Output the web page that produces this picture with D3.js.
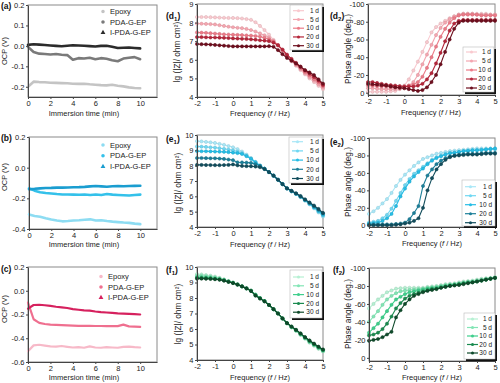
<!DOCTYPE html>
<html><head><meta charset="utf-8">
<script src="https://cdn.jsdelivr.net/npm/d3@7"></script>
<style>body{margin:0;background:#fff}svg{display:block;font-family:"Liberation Sans",Arial,sans-serif}</style>
</head><body><svg id="c" width="500" height="383"></svg>
<script>
// ---------- DATA ----------
const ocpTime = [0,0.5,1,1.5,2,2.5,3,3.5,4,4.5,5,5.5,6,6.5,7,7.5,8,8.5,9,9.5,10];
const ocpNames = ["Epoxy","PDA-G-EP","I-PDA-G-EP"];
const ocpXTicks = [0,2,4,6,8,10];
const ocpXTickLabels = ["0","2","4","6","8","10"];

const ocpA_Epoxy = [-0.200,-0.175,-0.177,-0.178,-0.180,-0.181,-0.182,-0.183,-0.185,-0.186,-0.185,-0.188,-0.190,-0.192,-0.193,-0.190,-0.195,-0.198,-0.203,-0.206,-0.207];
const ocpA_PDA = [-0.005,-0.030,-0.038,-0.040,-0.042,-0.040,-0.043,-0.045,-0.068,-0.060,-0.062,-0.058,-0.065,-0.060,-0.063,-0.070,-0.075,-0.062,-0.058,-0.055,-0.065];
const ocpA_IPDA = [0.005,0.008,0.006,0.004,0.002,0.000,-0.002,0.001,0.003,0.002,0.001,-0.001,-0.003,0.000,0.001,-0.004,-0.010,-0.009,-0.008,-0.010,-0.012];
const ocpA_YTicks = [0.2,0.1,0.0,-0.1,-0.2];
const ocpA_YTickLabels = ["0.2","0.1","0.0","-0.1","-0.2"];

const ocpB_Epoxy = [-0.305,-0.315,-0.320,-0.330,-0.338,-0.345,-0.350,-0.348,-0.345,-0.343,-0.340,-0.337,-0.345,-0.343,-0.348,-0.352,-0.355,-0.358,-0.360,-0.365,-0.368];
const ocpB_PDA = [-0.135,-0.150,-0.160,-0.165,-0.168,-0.172,-0.175,-0.175,-0.176,-0.177,-0.175,-0.178,-0.175,-0.178,-0.172,-0.176,-0.178,-0.180,-0.182,-0.178,-0.176];
const ocpB_IPDA = [-0.140,-0.138,-0.135,-0.133,-0.132,-0.130,-0.130,-0.129,-0.128,-0.127,-0.125,-0.122,-0.120,-0.122,-0.124,-0.121,-0.120,-0.121,-0.120,-0.119,-0.118];
const ocpB_YTicks = [0.2,0.0,-0.2,-0.4];
const ocpB_YTickLabels = ["0.2","0.0","-0.2","-0.4"];

const ocpC_Epoxy = [-0.510,-0.460,-0.455,-0.462,-0.468,-0.470,-0.465,-0.472,-0.478,-0.475,-0.480,-0.468,-0.478,-0.480,-0.475,-0.478,-0.480,-0.472,-0.470,-0.475,-0.478];
const ocpC_PDA = [-0.100,-0.240,-0.270,-0.280,-0.285,-0.288,-0.290,-0.292,-0.294,-0.295,-0.296,-0.296,-0.297,-0.297,-0.298,-0.298,-0.298,-0.285,-0.300,-0.302,-0.305];
const ocpC_IPDA = [-0.150,-0.120,-0.118,-0.122,-0.128,-0.135,-0.140,-0.145,-0.155,-0.160,-0.165,-0.168,-0.175,-0.180,-0.183,-0.186,-0.190,-0.192,-0.195,-0.197,-0.200];
const ocpC_YTicks = [0.2,0.0,-0.2,-0.4,-0.6];
const ocpC_YTickLabels = ["0.2","0.0","-0.2","-0.4","-0.6"];

const freq = [-2,-1.75,-1.5,-1.25,-1,-0.75,-0.5,-0.25,0,0.25,0.5,0.75,1,1.25,1.5,1.75,2,2.25,2.5,2.75,3,3.25,3.5,3.75,4,4.25,4.5,4.75,5];
const days = ["1 d","5 d","10 d","20 d","30 d"];
const freqTicks = [-2,-1,0,1,2,3,4,5];
const freqTickLabels = ["-2","-1","0","1","2","3","4","5"];
const zTicks9 = [4,5,6,7,8,9];
const zTicks10 = [4,5,6,7,8,9,10];
const phaseTicks = [-100,-80,-60,-40,-20,0];
const phaseTickLabels = ["-100","-80","-60","-40","-20","0"];

// d1 |Z|
const d1_1 = [8.30,8.30,8.30,8.29,8.28,8.27,8.26,8.25,8.25,8.24,8.22,8.19,8.15,8.02,7.82,7.60,7.35,7.07,6.78,6.48,6.18,5.92,5.68,5.45,5.22,5.00,4.80,4.60,4.42];
const d1_5 = [7.95,7.94,7.93,7.92,7.90,7.86,7.82,7.78,7.75,7.72,7.70,7.66,7.60,7.52,7.42,7.32,7.20,7.02,6.78,6.50,6.20,5.95,5.72,5.50,5.28,5.07,4.88,4.68,4.50];
const d1_10 = [7.47,7.46,7.45,7.43,7.41,7.39,7.37,7.36,7.35,7.34,7.33,7.31,7.30,7.28,7.25,7.18,7.10,6.98,6.80,6.53,6.24,6.00,5.78,5.56,5.35,5.16,4.97,4.78,4.58];
const d1_20 = [7.22,7.22,7.21,7.20,7.20,7.19,7.18,7.17,7.15,7.14,7.13,7.12,7.10,7.08,7.05,7.03,7.00,6.92,6.78,6.55,6.28,6.05,5.84,5.63,5.42,5.25,5.08,4.88,4.65];
const d1_30 = [6.85,6.84,6.83,6.82,6.80,6.78,6.76,6.74,6.72,6.72,6.72,6.72,6.72,6.72,6.72,6.72,6.73,6.70,6.52,6.30,6.10,5.95,5.80,5.63,5.45,5.32,5.18,4.95,4.72];
// d2 phase
const d2_1 = [-1,-1,-1,-1,-1,-1.5,-2,-4,-8,-15,-25,-35,-46,-57,-68,-74,-78,-81,-84,-86,-88,-89,-89,-89,-89,-89,-89,-88,-88];
const d2_5 = [-5,-5,-4.5,-4,-4,-4,-4,-4.5,-5,-8,-12,-20,-32,-43,-54,-65,-73,-79,-83,-86,-88,-89,-89,-89,-88,-88,-88,-88,-88];
const d2_10 = [-8,-8,-7.5,-7,-7,-6.5,-6,-6.5,-7,-8,-9,-12,-18,-28,-40,-52,-63,-72,-79,-84,-87,-88,-88,-88,-88,-87,-87,-87,-87];
const d2_20 = [-12,-12,-11,-10,-9,-8.5,-8,-7.5,-7,-7,-7,-8,-10,-15,-22,-33,-45,-58,-70,-78,-81,-82,-82,-82,-82,-82,-82,-82,-82];
const d2_30 = [-10,-9.5,-9,-8.5,-8,-7,-6,-5.5,-5,-4,-3,-2,-3,-6,-12,-20,-32,-46,-60,-72,-79,-81,-81,-81,-81,-81,-81,-81,-81];
// e1 |Z|
const e1_1 = [9.60,9.58,9.55,9.52,9.48,9.42,9.36,9.28,9.20,9.08,8.92,8.72,8.50,8.25,8.00,7.80,7.58,7.35,7.08,6.80,6.50,6.32,6.15,5.95,5.72,5.48,5.22,4.95,4.68];
const e1_5 = [9.25,9.24,9.22,9.20,9.18,9.14,9.10,9.05,9.00,8.92,8.82,8.66,8.45,8.22,8.00,7.80,7.58,7.35,7.08,6.80,6.52,6.33,6.16,5.96,5.74,5.50,5.26,5.00,4.74];
const e1_10 = [8.95,8.94,8.94,8.93,8.92,8.91,8.90,8.88,8.85,8.82,8.76,8.62,8.45,8.22,8.00,7.80,7.58,7.35,7.08,6.80,6.52,6.34,6.17,5.98,5.76,5.53,5.30,5.05,4.80];
const e1_20 = [8.50,8.50,8.49,8.48,8.48,8.46,8.44,8.40,8.36,8.22,8.21,8.20,8.18,8.10,7.98,7.80,7.58,7.35,7.08,6.80,6.52,6.35,6.18,6.00,5.78,5.57,5.35,5.12,4.88];
const e1_30 = [8.05,8.05,8.04,8.04,8.03,8.03,8.04,8.05,8.08,8.02,7.98,7.97,7.96,7.94,7.90,7.78,7.58,7.35,7.08,6.80,6.52,6.36,6.20,6.02,5.80,5.60,5.40,5.18,4.92];
// e2 phase
const e2_1 = [-13,-16,-20,-25,-30,-37,-45,-52,-58,-63,-68,-72,-76,-78,-80,-82,-83,-84,-85,-85.5,-86,-86.5,-87,-87.5,-88,-88,-88,-88,-88];
const e2_5 = [-3,-4,-5,-8,-12,-19,-28,-37,-46,-53,-59,-63,-67,-71,-75,-78,-80,-82,-83,-83.5,-84,-85,-85,-85.5,-86,-86,-86.5,-87,-87];
const e2_10 = [-2,-2.5,-3,-5,-8,-13,-22,-33,-42,-50,-56,-61,-65,-70,-74,-77,-79,-81,-82.5,-83,-84,-85,-85.5,-86,-86,-86.5,-87,-87.5,-88];
const e2_20 = [-1,-1,-1,-1,-1,-1,-1.5,-2,-3,-7,-14,-22,-45,-57,-64,-70,-74,-77,-79,-80,-81,-81.5,-82,-82,-82,-82.5,-83,-83,-83];
const e2_30 = [0,0,0,0,0,0,-0.5,-1,-2,-3,-5,-8,-20,-40,-54,-64,-70,-75,-78,-79.5,-80,-80.5,-81,-81,-81,-81.5,-82,-82,-82];
// f1 |Z|
const f1_1 = [9.55,9.52,9.48,9.44,9.38,9.30,9.20,9.10,9.00,8.88,8.75,8.62,8.48,8.22,8.00,7.80,7.55,7.28,7.00,6.68,6.36,6.10,5.88,5.62,5.38,5.12,4.92,4.72,4.55];
const f1_5 = [9.45,9.43,9.40,9.36,9.32,9.26,9.18,9.08,8.99,8.88,8.75,8.62,8.48,8.22,8.00,7.80,7.55,7.28,7.00,6.68,6.37,6.12,5.90,5.65,5.40,5.16,4.96,4.76,4.58];
const f1_10 = [9.35,9.34,9.32,9.30,9.26,9.22,9.15,9.06,8.98,8.87,8.75,8.62,8.47,8.20,8.00,7.80,7.55,7.28,7.00,6.68,6.38,6.14,5.92,5.67,5.43,5.20,5.00,4.80,4.62];
const f1_20 = [9.30,9.29,9.28,9.26,9.23,9.19,9.13,9.05,8.97,8.87,8.75,8.62,8.46,8.18,7.98,7.80,7.55,7.28,7.00,6.68,6.38,6.15,5.94,5.70,5.46,5.24,5.03,4.84,4.65];
const f1_30 = [9.25,9.25,9.24,9.23,9.21,9.18,9.12,9.04,8.96,8.86,8.75,8.62,8.45,8.15,7.96,7.78,7.55,7.28,7.00,6.68,6.38,6.16,5.95,5.72,5.48,5.26,5.06,4.86,4.68];
// f2 phase
const f2_1 = [-55,-60,-65,-69,-73,-75,-77,-77.5,-78,-78,-78,-78,-78,-79,-79.5,-80,-81,-82,-82.5,-83,-84,-85,-85.5,-86,-87,-88,-88.5,-89,-90];
const f2_5 = [-40,-46,-52,-59,-65,-69,-72,-74,-75,-75.5,-76,-76.5,-77,-78,-78.5,-79,-80,-81,-81.5,-82,-83,-84,-84.5,-85,-86,-87,-88,-88.5,-89];
const f2_10 = [-28,-33,-38,-45,-52,-59,-65,-68,-71,-73,-74,-75,-76,-77,-77.5,-78,-79,-80,-81,-81.5,-82,-83,-84,-84.5,-85,-86,-87,-88,-89];
const f2_20 = [-25,-26,-28,-32,-38,-46,-55,-61,-66,-69,-71,-72.5,-74,-75.5,-76.5,-77,-78,-79,-80,-81,-82,-83,-83.5,-84,-85,-86,-87,-88,-89];
const f2_30 = [-19,-20,-21,-23,-26,-29,-45,-53,-60,-65,-69,-71,-73,-74.5,-75.5,-76.5,-78,-79,-80,-80.5,-81,-82,-83,-84,-85,-86,-87,-88,-89];

// colours
const ocpAColors = ["#c4c4c4","#7a7a7a","#2b2b2b"];
const ocpBColors = ["#8ddcf2","#34c1ea","#1a9dd0"];
const ocpCColors = ["#f7b9c8","#ef6f8f","#d6215e"];
const dColors = ["#f9c9cf","#f4a6b0","#ec7b88","#b5263a","#6e0f1e"];
const eColors = ["#a9e7f7","#6fd7f2","#25bde6","#1c7f99","#124d5c"];
const fColors = ["#b6f0d3","#82e5b5","#3fcf8c","#1a8a4f","#0f4a2b"];

// ---------- DRAWING ----------
const svg = d3.select("#c");
const FS = 7.5;

function styleAxis(sel){
  sel.attr("font-family",null).attr("font-size",null);
  sel.selectAll("path.domain").attr("stroke","#444");
  sel.selectAll(".tick line").attr("stroke","#444");
  sel.selectAll(".tick text").attr("fill","#222").style("font-size",FS+"px");
}

function panelLabel(txt, sub, x, y){
  const t = svg.append("text").attr("x",x).attr("y",y).attr("font-weight","bold").attr("font-size",8.5).attr("fill","#111");
  t.append("tspan").text(txt);
  if(sub){ t.append("tspan").attr("font-size",6).attr("dy",2).text(sub); t.append("tspan").attr("dy",-2).text(")"); }
  else t.append("tspan").text(")");
}

function drawPanel(p){
  const g = svg.append("g");
  const x = d3.scaleLinear().domain(p.xDomain).range([p.left,p.right]);
  const y = d3.scaleLinear().domain(p.yDomain).range([p.bottom,p.top]);
  g.append("rect").attr("x",p.left).attr("y",p.top).attr("width",p.right-p.left).attr("height",p.bottom-p.top)
    .attr("fill","none").attr("stroke","#8a8a8a").attr("stroke-width",1);
  const line = d3.line().x((d,i)=>x(p.xs[i])).y(d=>y(d));
  p.series.forEach((s,k)=>{
    g.append("path").attr("d",line(s)).attr("fill","none").attr("stroke",p.colors[k])
      .attr("stroke-width",p.lw).attr("stroke-linejoin","round").attr("stroke-linecap","round");
    if(p.markers){
      g.selectAll(null).data(s).enter().append("circle")
        .attr("cx",(d,i)=>x(p.xs[i])).attr("cy",d=>y(d)).attr("r",1.6)
        .attr("fill",p.colors[k]).attr("stroke",d3.color(p.colors[k]).darker(0.4)).attr("stroke-width",0.5);
    }
  });
  const xa = d3.axisBottom(x).tickValues(p.xTicks).tickFormat((d,i)=>p.xTickLabels[i]).tickSize(2).tickSizeOuter(0).tickPadding(1.5);
  g.append("g").attr("transform",`translate(0,${p.bottom})`).call(xa).call(styleAxis);
  const ya = d3.axisLeft(y).tickValues(p.yTicks).tickFormat((d,i)=>p.yTickLabels[i]).tickSize(2).tickSizeOuter(0).tickPadding(1.5);
  g.append("g").attr("transform",`translate(${p.left},0)`).call(ya).call(styleAxis);
  // x label
  const xl = g.append("text").attr("x",p.xlabel[0]).attr("y",p.xlabel[1]).attr("text-anchor","middle").attr("font-size",FS).attr("fill","#222");
  if(p.type==="ocp") xl.text("Immersion time (min)");
  else { xl.append("tspan").text("Frequency ("); xl.append("tspan").attr("font-style","italic").text("f"); xl.append("tspan").text(" / Hz)"); }
  // y label
  const yl = g.append("text").attr("transform",`translate(${p.ylabel[0]},${p.ylabel[1]}) rotate(-90)`).attr("text-anchor","middle").attr("font-size",p.yfs).attr("fill","#222");
  yl.text(p.ytitle);
  // legend
  if(p.type==="ocp"){
    const sym = [d3.symbolCircle,d3.symbolCircle,d3.symbolTriangle];
    p.names.forEach((n,k)=>{
      const yy = p.legend[1]+k*p.legend[2];
      g.append("path").attr("d",d3.symbol().type(sym[k]).size(10)()).attr("transform",`translate(${p.legend[0]},${yy})`).attr("fill",p.colors[k]);
      g.append("text").attr("x",p.legend[0]+7).attr("y",yy).attr("dy","0.35em").attr("font-size",FS).attr("fill","#222").text(n);
    });
  } else {
    const [bx0,by0,bx1,by1,ey0,step] = p.legend;
    g.append("rect").attr("x",bx0+2).attr("y",by0+2).attr("width",bx1-bx0).attr("height",by1-by0).attr("fill","#111");
    g.append("rect").attr("x",bx0).attr("y",by0).attr("width",bx1-bx0).attr("height",by1-by0).attr("fill","#fff").attr("stroke","#bbb").attr("stroke-width",0.6);
    p.names.forEach((n,k)=>{
      const yy = ey0+k*step;
      g.append("line").attr("x1",bx0+3).attr("x2",bx0+14).attr("y1",yy).attr("y2",yy).attr("stroke",p.colors[k]).attr("stroke-width",1.2);
      g.append("circle").attr("cx",bx0+8.5).attr("cy",yy).attr("r",1.5).attr("fill",p.colors[k]);
      g.append("text").attr("x",bx1-3).attr("y",yy).attr("dy","0.35em").attr("text-anchor","end").attr("font-size",6.5).attr("fill","#222").text(n);
    });
  }
}

const ocpBase = {type:"ocp", xs:ocpTime, xDomain:[0,11.5], xTicks:ocpXTicks, xTickLabels:ocpXTickLabels, names:ocpNames, lw:2.6, markers:false, ytitle:"OCP (V)", yfs:7.5};
const zTitle = "lg (|Z|/ ohm cm\u00B2)";
const phTitle = "Phase angle (deg.)";
const eisBase = {type:"eis", xs:freq, xDomain:[-2,5], xTicks:freqTicks, xTickLabels:freqTickLabels, names:days, lw:1.1, markers:true, yfs:8.3};

const panels = [
  Object.assign({},ocpBase,{left:28,right:157,top:5,bottom:97,yDomain:[-0.25,0.2],yTicks:ocpA_YTicks,yTickLabels:ocpA_YTickLabels,
    series:[ocpA_Epoxy,ocpA_PDA,ocpA_IPDA],colors:ocpAColors,legend:[103,11.5,10.5],xlabel:[84,116],ylabel:[7,51]}),
  Object.assign({},ocpBase,{left:29,right:157,top:137,bottom:229,yDomain:[-0.4,0.2],yTicks:ocpB_YTicks,yTickLabels:ocpB_YTickLabels,
    series:[ocpB_Epoxy,ocpB_PDA,ocpB_IPDA],colors:ocpBColors,legend:[103,145,10.8],xlabel:[84,247],ylabel:[7,177]}),
  Object.assign({},ocpBase,{left:28,right:157,top:267,bottom:362,yDomain:[-0.6,0.2],yTicks:ocpC_YTicks,yTickLabels:ocpC_YTickLabels,
    series:[ocpC_Epoxy,ocpC_PDA,ocpC_IPDA],colors:ocpCColors,legend:[101,276.5,10.5],xlabel:[84,380],ylabel:[7,309],lw:2.2}),
  Object.assign({},eisBase,{left:197,right:323,top:4,bottom:97,yDomain:[4,9],yTicks:zTicks9,yTickLabels:zTicks9.map(String),
    series:[d1_1,d1_5,d1_10,d1_20,d1_30],colors:dColors,legend:[290,5,322,50,10.7,8.75],xlabel:[260,116],ylabel:[180,52],ytitle:zTitle}),
  Object.assign({},eisBase,{left:368,right:495,top:4,bottom:95,yDomain:[2.6,-100],yTicks:phaseTicks,yTickLabels:phaseTickLabels,
    series:[d2_1,d2_5,d2_10,d2_20,d2_30],colors:dColors,legend:[463,47,494,92,52,9],xlabel:[431,115],ylabel:[351,49],ytitle:phTitle}),
  Object.assign({},eisBase,{left:197,right:323,top:135,bottom:227,yDomain:[4,10],yTicks:zTicks10,yTickLabels:zTicks10.map(String),
    series:[e1_1,e1_5,e1_10,e1_20,e1_30],colors:eColors,legend:[289,137,322,183,141.7,9.2],xlabel:[260,247],ylabel:[181,183],ytitle:zTitle}),
  Object.assign({},eisBase,{left:369,right:495,top:138,bottom:227,yDomain:[2,-100],yTicks:phaseTicks,yTickLabels:phaseTickLabels,
    series:[e2_1,e2_5,e2_10,e2_20,e2_30],colors:eColors,legend:[462,180,495,226,186.7,9],xlabel:[432,246],ylabel:[351,182],ytitle:phTitle}),
  Object.assign({},eisBase,{left:197,right:323,top:267,bottom:360,yDomain:[4,10],yTicks:zTicks10,yTickLabels:zTicks10.map(String),
    series:[f1_1,f1_5,f1_10,f1_20,f1_30],colors:fColors,legend:[290,270,322,318,277,8.8],xlabel:[260,380],ylabel:[181,314],ytitle:zTitle}),
  Object.assign({},eisBase,{left:369,right:495,top:268,bottom:361,yDomain:[3.5,-100],yTicks:phaseTicks,yTickLabels:phaseTickLabels,
    series:[f2_1,f2_5,f2_10,f2_20,f2_30],colors:fColors,legend:[464,313,495,359,319,8.5],xlabel:[432,380],ylabel:[351,314],ytitle:phTitle})
];
panels.forEach(drawPanel);

panelLabel("(a",null,1,9);
panelLabel("(b",null,1,141);
panelLabel("(c",null,1,271.5);
panelLabel("(d","1",166,19);
panelLabel("(d","2",330,19);
panelLabel("(e","1",166,141.5);
panelLabel("(e","2",330,145);
panelLabel("(f","1",166,273);
panelLabel("(f","2",333,273);
</script></body></html>
